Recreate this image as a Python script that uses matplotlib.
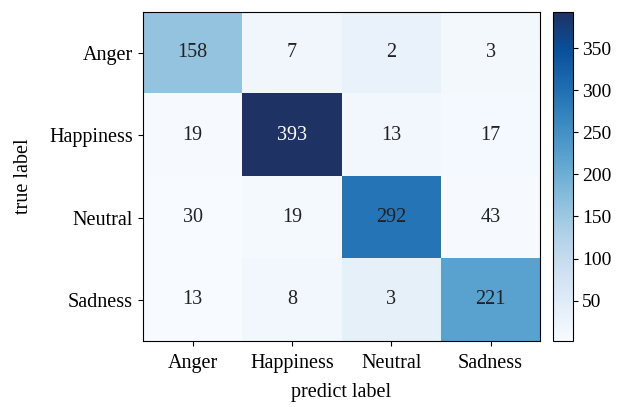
import numpy as np
import matplotlib
matplotlib.use('Agg')
import matplotlib.pyplot as plt
from matplotlib.colors import LinearSegmentedColormap

plt.rcParams['font.family'] = ['Liberation Serif', 'DejaVu Serif']

labels = ['Anger', 'Happiness', 'Neutral', 'Sadness']
# counts shown in the cells
cm = np.array([
    [158, 7, 2, 3],
    [19, 393, 13, 17],
    [30, 19, 292, 43],
    [13, 8, 3, 221],
])
# cell shading (in count units of the colour bar)
shade = np.array([
    [158, 16, 28, 10],
    [5, 393, 14, 9],
    [2, 8, 292, 4],
    [2, 14, 36, 221],
])

blues = plt.get_cmap('Blues')
cols = [blues(v) for v in np.linspace(0, 0.88, 9)] + ['#1e3264']
cmap = LinearSegmentedColormap.from_list('blues_navy', cols)

fig = plt.figure(figsize=(6.21, 4.07), dpi=100)
ax = fig.add_axes([0.230, 0.162, 0.640, 0.809])
cax = fig.add_axes([0.890, 0.162, 0.032, 0.809])

im = ax.imshow(shade, cmap=cmap, aspect='auto', vmin=cm.min(), vmax=cm.max())
for i in range(cm.shape[0]):
    for j in range(cm.shape[1]):
        color = 'white' if cm[i, j] > 350 else '#222222'
        ax.text(j, i, str(cm[i, j]), ha='center', va='center', fontsize=14.5, color=color)

ax.set_xticks(range(len(labels)))
ax.set_xticklabels(labels, fontsize=14.5)
ax.set_yticks(range(len(labels)))
ax.set_yticklabels(labels, fontsize=14.5)
ax.tick_params(axis='x', pad=6)
ax.set_xlabel('predict label', fontsize=14.5, labelpad=7)
ax.set_ylabel('true label', fontsize=14.5, labelpad=12)

cb = fig.colorbar(im, cax=cax)
cb.set_ticks([50, 100, 150, 200, 250, 300, 350])
cb.ax.tick_params(labelsize=14)

fig.savefig('out.png', dpi=100)
